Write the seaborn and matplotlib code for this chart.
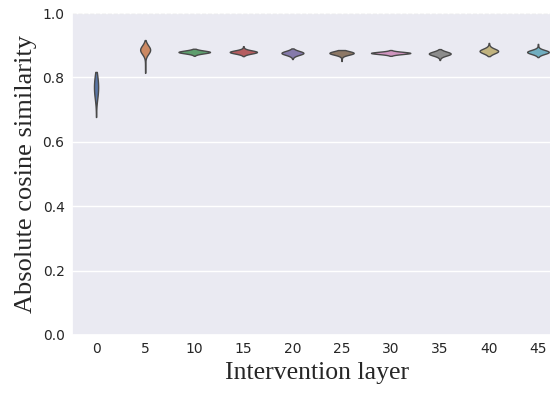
import matplotlib
matplotlib.use("Agg")
import matplotlib.pyplot as plt
import seaborn as sns
import numpy as np
import pandas as pd

layers = [0, 5, 10, 15, 20, 25, 30, 35, 40, 45]

# core similarity values per layer, weighted by core_counts
core_values = {
    0:  [0.730, 0.740, 0.750, 0.760, 0.770, 0.780, 0.790, 0.800, 0.810],
    5:  [0.868, 0.874, 0.880, 0.886, 0.892, 0.898, 0.904],
    10: [0.8715, 0.874, 0.8765, 0.879, 0.8815, 0.884, 0.8865],
    15: [0.8709, 0.8736, 0.8763, 0.879, 0.8817, 0.8844, 0.8871],
    20: [0.8655, 0.869, 0.8725, 0.876, 0.8795, 0.883, 0.8865],
    25: [0.867, 0.870, 0.873, 0.876, 0.879, 0.882, 0.885],
    30: [0.870, 0.872, 0.874, 0.876, 0.878, 0.880, 0.882],
    35: [0.8635, 0.867, 0.8705, 0.874, 0.8775, 0.881, 0.8845],
    40: [0.870, 0.874, 0.878, 0.882, 0.886, 0.890, 0.894],
    45: [0.869, 0.8723, 0.8757, 0.879, 0.8823, 0.8857, 0.889],
}
peaked = [4, 12, 24, 36, 24, 12, 4]
core_counts = {
    0:  [6, 12, 14, 15, 15, 15, 14, 12, 6],
    5:  peaked, 10: peaked, 15: peaked, 20: peaked, 25: peaked,
    30: peaked, 35: peaked, 40: peaked, 45: peaked,
}

# sparse tail values (one observation each)
tail_values = {
    0:  [0.677, 0.688, 0.698, 0.708, 0.718, 0.817],
    5:  [0.814, 0.825, 0.835, 0.845, 0.855, 0.862, 0.910, 0.916],
    10: [0.867, 0.889],
    15: [0.866, 0.890, 0.894, 0.897],
    20: [0.857, 0.861, 0.890],
    25: [0.851, 0.856, 0.861],
    30: [0.867, 0.885],
    35: [0.854, 0.858, 0.888],
    40: [0.866, 0.899, 0.903, 0.907],
    45: [0.863, 0.895, 0.900, 0.904],
}

rows = []
for l in layers:
    for v, c in zip(core_values[l], core_counts[l]):
        rows += [(l, v)] * c
    rows += [(l, v) for v in tail_values[l]]
df = pd.DataFrame(rows, columns=["layer", "sim"])

sns.set_theme(style="darkgrid")
fig = plt.figure(figsize=(5.5, 3.98), dpi=100)
ax = fig.add_axes([71.5 / 550, 63 / 398, 491 / 550, 322 / 398])
sns.violinplot(data=df, x="layer", y="sim", hue="layer", palette="deep",
               legend=False, ax=ax, linewidth=1, inner=None, bw_adjust=2,
               common_norm=True, cut=0)
ax.axhline(1.0, ls="--", color="gray", alpha=0.5, lw=0.8)
ax.set_ylim(0, 1.0)
ax.set_xlim(-0.5, 9.5)
ax.set_xlabel("Intervention layer", family="Liberation Serif", fontsize=18.5)
ax.set_ylabel("Absolute cosine similarity", family="Liberation Serif", fontsize=19)
ax.tick_params(labelsize=10, length=0, pad=5)
fig.savefig("out.png", dpi=100)
